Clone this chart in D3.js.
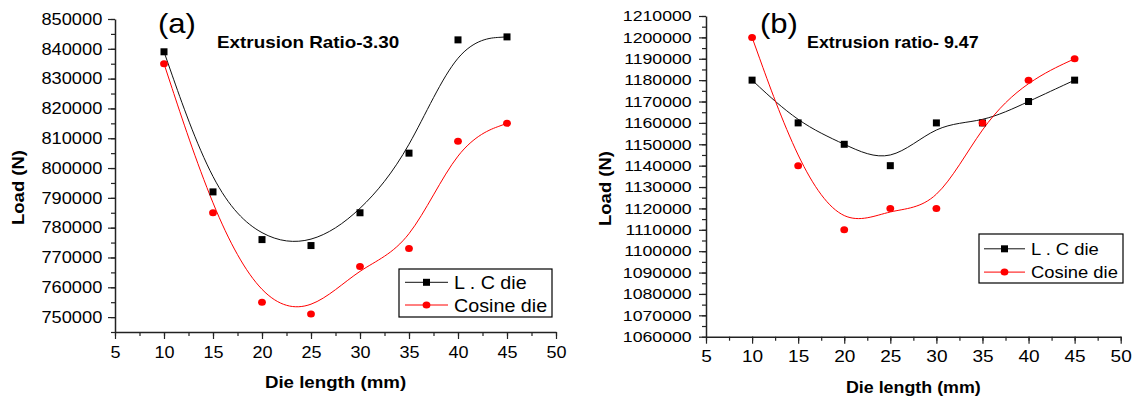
<!DOCTYPE html>
<html>
<head>
<meta charset="utf-8">
<script src="https://cdn.jsdelivr.net/npm/d3@7"></script>
<style>
  html, body { margin: 0; padding: 0; background: #fff; }
  svg { display: block; }
  text { font-family: "Liberation Sans", Arial, sans-serif; fill: #000; }
</style>
</head>
<body>
<svg id="chart" width="1135" height="398"></svg>
<script>
// ---------------- data ----------------
const dieLength = [10, 15, 20, 25, 30, 35, 40, 45];
const lcLoadA = [839000, 792000, 776000, 774000, 785000, 805000, 843000, 844000];
const cosineLoadA = [835000, 785000, 755000, 751000, 767000, 773000, 809000, 815000];
const lcLoadB = [1180000, 1160000, 1150000, 1140000, 1160000, 1160000, 1170000, 1180000];
const cosineLoadB = [1200000, 1140000, 1110000, 1120000, 1120000, 1160000, 1180000, 1190000];

const seriesNames = ["L . C die", "Cosine die"];
const xTicks = [5, 10, 15, 20, 25, 30, 35, 40, 45, 50];
const yTicksA = [750000, 760000, 770000, 780000, 790000, 800000, 810000, 820000, 830000, 840000, 850000];
const yTicksB = [1060000, 1070000, 1080000, 1090000, 1100000, 1110000, 1120000, 1130000, 1140000, 1150000, 1160000, 1170000, 1180000, 1190000, 1200000, 1210000];
const panelLabels = ["(a)", "(b)"];
const panelTitles = ["Extrusion Ratio-3.30", "Extrusion ratio- 9.47"];
const xTitle = "Die length (mm)";
const yTitle = "Load (N)";

// ---------------- layout ----------------
const panels = [
  {
    lc: lcLoadA, cos: cosineLoadA, yTicks: yTicksA,
    xDomain: [5, 50], yDomain: [745000, 850000],
    left: 115, right: 556, top: 19, bottom: 332,
    yLabSize: 16.3, yLabSx: 1.12, yLabGap: 12.7,
    xLabSize: 16.7, xLabSx: 1.08, xLabGap: 14,
    label: panelLabels[0], labelX: 158, labelY: 33,
    title: panelTitles[0], titleX: 217, titleY: 48, titleSize: 16.7, titleSx: 1.13,
    xTitleY: 388, xTitleSize: 16.7, xTitleSx: 1.12,
    yTitleX: 23.5, yTitleY: 187.5,
    legend: { x0: 399, x1: 552, y0: 269, y1: 317, lineX0: 405, lineX1: 448, textX: 454, rows: [289, 311.7], size: 18.6, sx: 1.06 }
  },
  {
    lc: lcLoadB, cos: cosineLoadB, yTicks: yTicksB,
    xDomain: [5, 50], yDomain: [1060000, 1210000],
    left: 706, right: 1120.7, top: 16, bottom: 336.7,
    yLabSize: 15, yLabSx: 1.18, yLabGap: 14.3,
    xLabSize: 17.3, xLabSx: 1.1, xLabGap: 13.3,
    label: panelLabels[1], labelX: 760, labelY: 33,
    title: panelTitles[1], titleX: 807, titleY: 48, titleSize: 16.7, titleSx: 1.07,
    xTitleY: 393, xTitleSize: 16.7, xTitleSx: 1.07,
    yTitleX: 610.5, yTitleY: 188.5,
    legend: { x0: 979, x1: 1123, y0: 234, y1: 283, lineX0: 984, lineX1: 1025, textX: 1031, rows: [255, 278.3], size: 17.2, sx: 1.07 }
  }
];

const svg = d3.select("#chart");
const RED = "#ff0000";

function drawPanel(p) {
  const g = svg.append("g");
  const x = d3.scaleLinear().domain(p.xDomain).range([p.left, p.right]);
  const y = d3.scaleLinear().domain(p.yDomain).range([p.bottom, p.top]);

  // minor ticks
  const xMinor = d3.range(p.xDomain[0], p.xDomain[1] + 0.001, 2.5);
  const yMinor = d3.range(p.yDomain[0], p.yDomain[1] + 1, 5000);
  g.append("g").attr("transform", `translate(0,${p.bottom})`)
    .call(d3.axisBottom(x).tickValues(xMinor).tickSize(4).tickFormat(""))
    .call(s => s.select(".domain").remove())
    .selectAll("line").attr("stroke", "#222").attr("stroke-width", 1.2);
  g.append("g").attr("transform", `translate(${p.left},0)`)
    .call(d3.axisLeft(y).tickValues(yMinor).tickSize(4).tickFormat(""))
    .call(s => s.select(".domain").remove())
    .selectAll("line").attr("stroke", "#222").attr("stroke-width", 1.2);

  // major x axis
  const xa = g.append("g").attr("transform", `translate(0,${p.bottom})`)
    .call(d3.axisBottom(x).tickValues(xTicks).tickSize(7).tickPadding(p.xLabGap - 7).tickSizeOuter(0).tickFormat(d3.format("d")));
  xa.select(".domain").attr("stroke", "#222").attr("stroke-width", 1.5);
  xa.selectAll(".tick line").attr("stroke", "#222").attr("stroke-width", 1.2);
  xa.selectAll(".tick text")
    .attr("font-family", "Liberation Sans, Arial, sans-serif")
    .attr("font-size", p.xLabSize)
    .attr("fill", "#111")
    .attr("transform", `scale(${p.xLabSx},1)`);

  // major y axis
  const ya = g.append("g").attr("transform", `translate(${p.left},0)`)
    .call(d3.axisLeft(y).tickValues(p.yTicks).tickSize(7).tickSizeOuter(0).tickFormat(d3.format("d")));
  ya.select(".domain").attr("stroke", "#222").attr("stroke-width", 1.5);
  ya.selectAll(".tick line").attr("stroke", "#222").attr("stroke-width", 1.2);
  ya.selectAll(".tick text")
    .attr("font-family", "Liberation Sans, Arial, sans-serif")
    .attr("font-size", p.yLabSize)
    .attr("fill", "#111")
    .attr("x", 0)
    .attr("transform", `translate(${-p.yLabGap},0) scale(${p.yLabSx},1)`);

  // curves (B-spline)
  const line = d3.line().x((d, i) => x(dieLength[i])).y(d => y(d)).curve(d3.curveBasis);
  g.append("path").datum(p.lc).attr("d", line)
    .attr("fill", "none").attr("stroke", "#111").attr("stroke-width", 1);
  g.append("path").datum(p.cos).attr("d", line)
    .attr("fill", "none").attr("stroke", RED).attr("stroke-width", 1);

  // markers
  const sq = 7;
  g.selectAll(".sq").data(p.lc).join("rect")
    .attr("x", (d, i) => x(dieLength[i]) - sq / 2)
    .attr("y", d => y(d) - sq / 2)
    .attr("width", sq).attr("height", sq).attr("fill", "#000");
  g.selectAll(".ci").data(p.cos).join("ellipse")
    .attr("cx", (d, i) => x(dieLength[i]))
    .attr("cy", d => y(d))
    .attr("rx", 3.9).attr("ry", 3.5).attr("fill", RED);

  // panel label (a)/(b)
  g.append("text").text(p.label)
    .attr("font-family", "Liberation Serif, Times New Roman, serif")
    .attr("font-size", 27)
    .attr("transform", `translate(${p.labelX},${p.labelY}) scale(1.15,1)`);

  // title
  g.append("text").text(p.title)
    .attr("font-weight", "bold").attr("font-size", p.titleSize)
    .attr("transform", `translate(${p.titleX},${p.titleY}) scale(${p.titleSx},1)`);

  // axis titles
  g.append("text").text(xTitle)
    .attr("font-weight", "bold").attr("font-size", p.xTitleSize)
    .attr("text-anchor", "middle")
    .attr("transform", `translate(${(p.left + p.right) / 2},${p.xTitleY}) scale(${p.xTitleSx},1)`);
  g.append("text").text(yTitle)
    .attr("font-weight", "bold").attr("font-size", 18.5)
    .attr("text-anchor", "middle")
    .attr("transform", `translate(${p.yTitleX},${p.yTitleY}) rotate(-90) scale(1,0.92)`);

  // legend
  const L = p.legend;
  g.append("rect").attr("x", L.x0).attr("y", L.y0)
    .attr("width", L.x1 - L.x0).attr("height", L.y1 - L.y0)
    .attr("fill", "#fff").attr("stroke", "#000").attr("stroke-width", 1.2);
  const colors = ["#000", RED];
  seriesNames.forEach((name, i) => {
    const cy = L.rows[i] - L.size * 0.36;
    g.append("line").attr("x1", L.lineX0).attr("x2", L.lineX1)
      .attr("y1", cy).attr("y2", cy)
      .attr("stroke", i === 0 ? "#111" : RED).attr("stroke-width", 1);
    const mx = (L.lineX0 + L.lineX1) / 2;
    if (i === 0) {
      g.append("rect").attr("x", mx - sq / 2).attr("y", cy - sq / 2)
        .attr("width", sq).attr("height", sq).attr("fill", "#000");
    } else {
      g.append("ellipse").attr("cx", mx).attr("cy", cy).attr("rx", 3.9).attr("ry", 3.5).attr("fill", RED);
    }
    g.append("text").text(name)
      .attr("font-size", L.size)
      .attr("transform", `translate(${L.textX},${L.rows[i]}) scale(${L.sx},1)`);
  });
}

panels.forEach(drawPanel);
</script>
</body>
</html>
